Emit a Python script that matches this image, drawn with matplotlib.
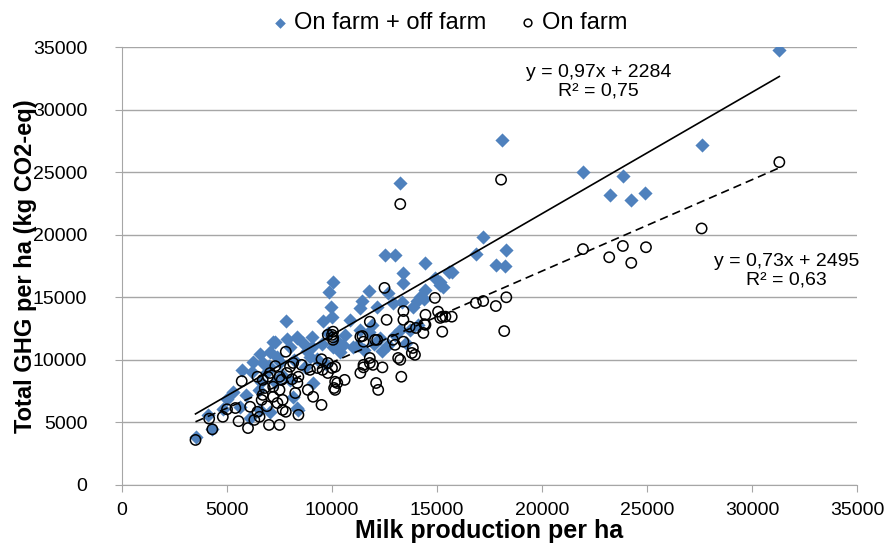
import matplotlib.pyplot as plt
import numpy as np

plt.rcParams['font.family'] = ['Liberation Sans', 'DejaVu Sans']

# on farm + off farm emissions (diamonds)
total_x = [31300, 18100, 27600, 21950, 23850, 23250, 24900, 24250, 13250,
           17200, 18300, 17800, 18250, 16850, 12500, 13000, 14450, 13400, 13400,
           15550, 14900, 15150, 15300, 10050, 9850, 11750, 12650, 14200, 11450,
           12900, 13350, 14050, 11350, 12150, 13850, 9950, 10000, 15150, 15700,
           14450, 14400,
           9550, 7800, 10300, 7200, 8350, 9050, 11750, 13250, 11500, 10500, 10850,
           11350, 11900, 12300, 12650, 11250, 10600, 13000, 13700, 14100, 13500,
           3500, 4300, 4100, 5300, 5700, 6250, 6550, 7050, 7300, 7850, 8350, 8600,
           9050, 6700, 6200, 6900, 7500, 9100, 8350, 6100, 6550, 7050, 4800, 5600,
           6500, 7300, 8000, 8150, 7400, 8000, 9800, 10050, 8950, 8400,
           7600, 8700, 9300, 9700, 8200, 10400, 9500, 6600, 5900, 5000, 7000,
           8800, 11000, 12000, 12400]
total_y = [34800, 27600, 27200, 25000, 24700, 23200, 23300, 22800, 24150,
           19800, 18800, 17600, 17500, 18450, 18400, 18400, 17750, 16950, 16150,
           17000, 16550, 16250, 15850, 16200, 15450, 15500, 15350, 15050, 14700,
           14550, 14650, 14700, 14150, 14250, 14250, 14250, 13450, 16000, 17000,
           15600, 14900,
           13100, 13100, 11450, 11450, 11750, 11850, 12250, 12400, 10800, 11200,
           13200, 12400, 12800, 11750, 11200, 11200, 12000, 12000, 12400, 12800,
           11350,
           3850, 4500, 5600, 7450, 9200, 9850, 10450, 10650, 11450, 11650, 11850,
           11350, 11050, 9750, 9050, 9050, 9850, 8150, 6150, 5350, 6000, 5850,
           6050, 6250, 7600, 8250, 8400, 7050, 10250, 11050, 12150, 11050, 10250,
           6000,
           8800, 9400, 10100, 9700, 10000, 10600, 11300, 8200, 7200, 6900, 9500,
           10700, 11000, 11300, 10700]

# on farm emissions only (open circles)
farm_x = [31300, 27600, 21950, 23200, 23850, 24250, 24950, 18050, 13250,
          17200, 17800, 18300, 18200, 12500, 14900, 16850, 11800, 12600, 13400,
          13400, 14450, 15050, 15150, 15400, 15700, 14400, 14000, 14350, 15250,
          13700, 11450, 12050, 12900, 13000, 13400, 13850, 13950, 13150, 11800,
          10050, 10050, 13800, 13250, 11800, 11950, 12400, 11500, 11350, 11500,
          12150, 13300, 12100, 12200, 11350, 10600, 10250, 10150, 9500, 9100,
          8400, 7500, 7650, 8250, 11500, 10000, 14450, 15250,
          3500, 4300, 4150, 5700, 5000, 5400, 4800, 5550, 6000, 6300, 6550, 7000,
          6450, 6950, 7300, 7800, 7850, 8100, 8350, 8850, 8150, 8550, 8950, 9300,
          9500, 9800, 9550, 10150, 10150, 10100, 9800, 9800, 10000, 10050, 6800,
          6700, 7200, 7400, 7800, 6900, 6650, 6100, 7200, 7500, 7600, 6700, 7050,
          7500, 8400, 8000, 6450, 7650]
farm_y = [25800, 20500, 18850, 18200, 19100, 17750, 19000, 24400, 22450,
          14700, 14300, 15000, 12300, 15750, 14950, 14550, 13050, 13200, 13200,
          13900, 13600, 13850, 13350, 13450, 13450, 12850, 12550, 12150, 12250,
          12650, 11900, 11600, 11600, 11200, 11450, 10950, 10400, 10150, 10150,
          12250, 11800, 10550, 10000, 9750, 9600, 9400, 9400, 11850, 11450,
          11600, 8650, 8150, 7600, 8950, 8400, 8150, 7600, 6400, 7050,
          5600, 4800, 6000, 7350, 9600, 9350, 12800, 13450,
          3600, 4450, 5300, 8300, 6050, 6150, 5450, 5100, 4550, 5200, 5450, 4800,
          8650, 8650, 9500, 10650, 8950, 8450, 8150, 7600, 9750, 9600, 9200, 9350,
          10050, 9750, 9200, 9450, 8250, 7750, 8950, 12000, 12000, 11600, 7750,
          7200, 7050, 6550, 5850, 6300, 6800, 6250, 7850, 7600, 8400, 8400, 8950,
          8650, 8650, 9450, 5850, 6800]

# linear trend coefficients
fit_total = (0.97, 2284)
fit_farm = (0.73, 2495)

fig = plt.figure(figsize=(8.86, 5.51), dpi=100)
ax = fig.add_axes([0.1377, 0.1198, 0.8296, 0.7949])

ax.scatter(total_x, total_y, marker='D', s=52, color='#4F81BD', linewidths=0,
           zorder=3, label='On farm + off farm')
ax.scatter(farm_x, farm_y, marker='o', s=55, facecolors='none', edgecolors='black',
           linewidths=1.1, zorder=4, label='On farm')

xs = np.array([min(total_x), max(total_x)])
ax.plot(xs, fit_total[0] * xs + fit_total[1], color='black', lw=1.2, zorder=5)
xs = np.array([min(farm_x), max(farm_x)])
ax.plot(xs, fit_farm[0] * xs + fit_farm[1], color='black', lw=1.2, ls=(0, (5, 3)), zorder=5)

ax.text(22700, 32200, 'y = 0,97x + 2284\nR² = 0,75', ha='center', va='center',
        fontsize=14, linespacing=1.1)
ax.text(31650, 17100, 'y = 0,73x + 2495\nR² = 0,63', ha='center', va='center',
        fontsize=14, linespacing=1.1)

ax.set_xlim(0, 35000)
ax.set_ylim(0, 35000)
ax.set_xticks(np.arange(0, 35001, 5000))
ax.set_yticks(np.arange(0, 35001, 5000))
ax.grid(axis='y', color='#a6a6a6', lw=1)
ax.set_axisbelow(True)
for side in ['top', 'right']:
    ax.spines[side].set_visible(False)
for side in ['left', 'bottom']:
    ax.spines[side].set_color('#a6a6a6')
ax.tick_params(colors='#a6a6a6', labelcolor='black', labelsize=14, length=5)
ax.tick_params(axis='y', pad=20)
ax.tick_params(axis='x', pad=7)

ax.set_xlabel('Milk production per ha', fontsize=18, fontweight='bold', labelpad=0)
ax.set_ylabel('Total GHG per ha (kg CO2-eq)', fontsize=17, fontweight='bold', labelpad=-3)

fig.legend(loc='center', bbox_to_anchor=(0.505, 0.958), ncol=2, frameon=False,
           fontsize=17, markerscale=0.75, handletextpad=0.05, columnspacing=1.2,
           handlelength=1.1)

fig.savefig('out.png', dpi=100)
